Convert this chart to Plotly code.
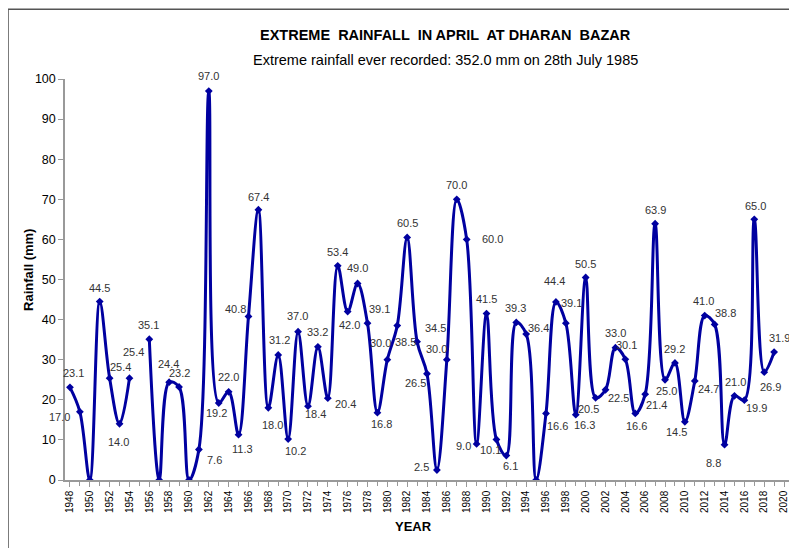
import plotly.graph_objects as go

# ---------------- data ----------------
years = list(range(1948, 2020))
rainfall = [23.1, 17.0, 0.0, 44.5, 25.4, 14.0, 25.4, None, 35.1, 0.0,
            24.4, 23.2, 0.0, 7.6, 97.0, 19.2, 22.0, 11.3, 40.8, 67.4,
            18.0, 31.2, 10.2, 37.0, 18.4, 33.2, 20.4, 53.4, 42.0, 49.0,
            39.1, 16.8, 30.0, 38.5, 60.5, 34.5, 26.5, 2.5, 30.0, 70.0,
            60.0, 9.0, 41.5, 10.1, 6.1, 39.3, 36.4, 0.0, 16.6, 44.4,
            39.1, 16.3, 50.5, 20.5, 22.5, 33.0, 30.1, 16.6, 21.4, 63.9,
            25.0, 29.2, 14.5, 24.7, 41.0, 38.8, 8.8, 21.0, 19.9, 65.0,
            26.9, 31.9]
title_text = "EXTREME  RAINFALL  IN APRIL  AT DHARAN  BAZAR"
subtitle_text = "Extreme rainfall ever recorded: 352.0 mm on 28th July 1985"
y_title = "Rainfall (mm)"
x_title = "YEAR"

# label offsets in pixels (dx, dy downward); None = no label
label_offsets = [(4, -14), (-20, 5), None, (0, -14), (11, -11), (-1, 18), (4, -26), None, (-1, -14), None,
                 (-1, -18), (0, -14), None, (16, 10), (0, -15), (-2, 10), (0, -15), (4, 14), (-13, -7), (0, -13),
                 (4, 17), (1, -15), (7, 12), (-1, -16), (8, 8), (0, -15), (18, 6), (0, -14), (2, 13), (0, -16),
                 (12, -14), (4, 11), (-7, -17), (8, 16), (0, -14), (18, -14), (-12, 9), (-15, -3), (-10, -11), (0, -14),
                 (26, 0), (-13, 2), (0, -15), (-6, 10), (4, 10), (-1, -14), (12, -6), None, (11, 13), (-1, -21),
                 (6, -20), (9, 10), (0, -14), (-7, 11), (13, 8), (0, -15), (1, -14), (1, 13), (11, 11), (0, -14),
                 (1, 11), (0, -14), (-8, 10), (14, 8), (-1, -15), (11, -11), (-11, 18), (1, -14), (12, 8), (1, -13),
                 (6, 15), (5, -14)]

LINE = "#0000A0"
FONT = "Liberation Sans, Arial, sans-serif"

fig = go.Figure()
fig.add_trace(go.Scatter(
    x=years, y=rainfall, mode="lines+markers",
    line=dict(color=LINE, width=3, shape="spline", smoothing=1.0),
    marker=dict(symbol="diamond", size=6, color=LINE),
    connectgaps=False, hoverinfo="x+y"))

annotations = []
for yr, v, off in zip(years, rainfall, label_offsets):
    if v is None or off is None:
        continue
    annotations.append(dict(x=yr, y=v, xref="x", yref="y", text=f"{v:.1f}",
                            showarrow=False, xshift=off[0], yshift=-off[1],
                            xanchor="center", yanchor="middle",
                            font=dict(family=FONT, size=11, color="#333333")))

annotations += [
    dict(x=0.525, y=1.1097, xref="paper", yref="paper", text=f"<b>{title_text}</b>",
         xanchor="center", yanchor="middle",
         showarrow=False, font=dict(family=FONT, size=14.5, color="#000")),
    dict(x=0.525, y=1.047, xref="paper", yref="paper", text=subtitle_text,
         xanchor="center", yanchor="middle",
         showarrow=False, font=dict(family=FONT, size=14.5, color="#000")),
    dict(x=-0.0497, y=0.524, xref="paper", yref="paper", text=f"<b>{y_title}</b>", textangle=-90,
         xanchor="center", yanchor="middle",
         showarrow=False, font=dict(family=FONT, size=13, color="#000")),
    dict(x=0.4807, y=-0.117, xref="paper", yref="paper", text=f"<b>{x_title}</b>",
         xanchor="center", yanchor="middle",
         showarrow=False, font=dict(family=FONT, size=13, color="#000")),
]

fig.update_layout(
    width=789, height=540,
    margin=dict(l=57, r=8, t=71, b=68),
    paper_bgcolor="white", plot_bgcolor="white",
    showlegend=False,
    annotations=annotations,
    shapes=[dict(type="rect", xref="paper", yref="paper", x0=-0.0787, x1=1.2, y0=-0.5, y1=1.174,
                 line=dict(color="#555555", width=1.5), fillcolor="rgba(0,0,0,0)", layer="below")],
    xaxis=dict(range=[1947.5, 2020.5], tick0=1948, dtick=2, tickangle=-90,
               showgrid=False, zeroline=False, showline=True, linecolor="#999999", linewidth=1.5,
               ticks="outside", ticklen=5, tickcolor="#999999",
               minor=dict(dtick=1, tick0=1948, ticks="outside", ticklen=4, tickcolor="#999999"),
               tickfont=dict(family=FONT, size=10, color="#000")),
    yaxis=dict(range=[0, 100], dtick=10, showgrid=False, zeroline=False,
               showline=True, linecolor="#999999", linewidth=1.5,
               ticks="outside", ticklen=5, tickcolor="#999999",
               tickfont=dict(family=FONT, size=12.5, color="#000")),
)

fig.write_html("out.html")
